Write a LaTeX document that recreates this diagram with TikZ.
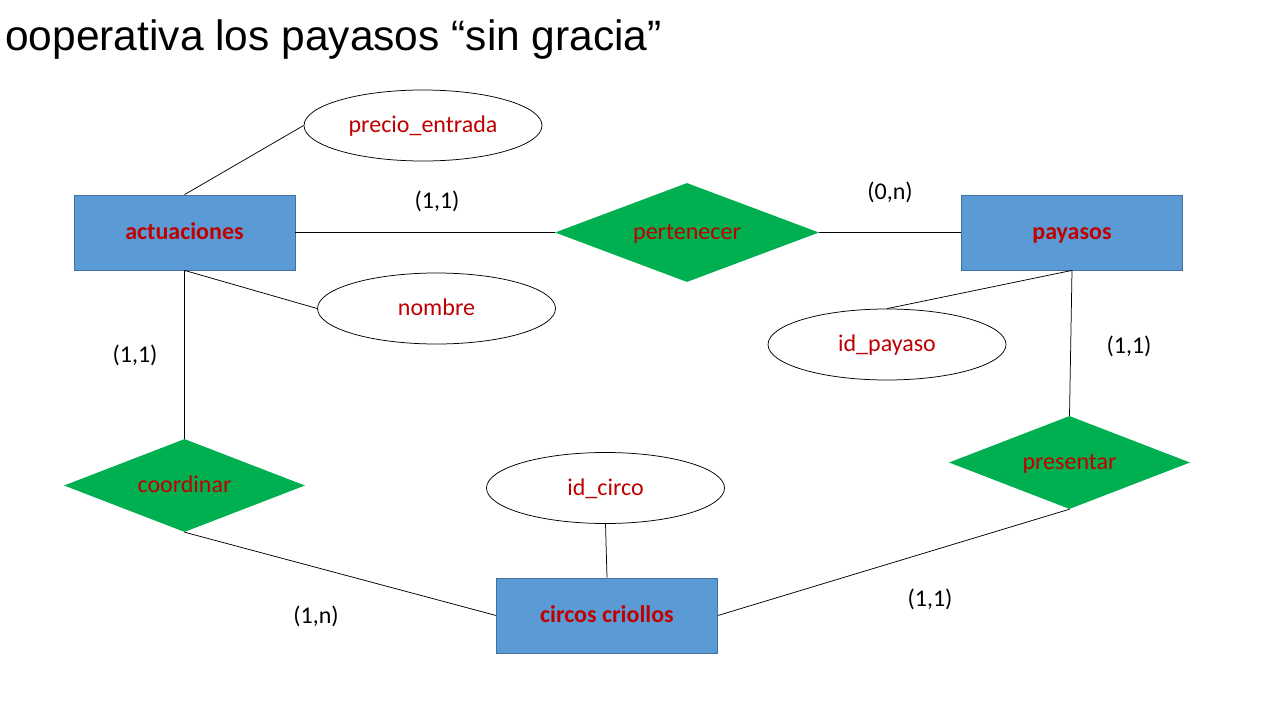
\documentclass[tikz,border=0pt]{standalone}
\usepackage{fontspec}
\setmainfont{Carlito}
\newfontfamily\titlefont{Liberation Sans}
\usetikzlibrary{shapes.geometric}
\definecolor{entblue}{HTML}{5B9BD5}
\definecolor{entborder}{HTML}{41719C}
\definecolor{relgreen}{HTML}{00B050}
\definecolor{txtred}{HTML}{C00000}
\tikzset{
  lbl/.style={font=\fontsize{24}{28}\selectfont, text height=18pt, text depth=4pt},
  entity/.style={lbl, rectangle, fill=entblue, draw=entborder, line width=0.8pt,
    minimum width=221pt, minimum height=75pt, inner sep=0pt,
    text=txtred, font=\fontsize{24}{28}\selectfont\bfseries},
  relation/.style={lbl, diamond, aspect=2.6, fill=relgreen, draw=none, inner sep=0pt,
    minimum width=241pt, minimum height=93pt, text=txtred},
  attrib/.style={lbl, ellipse, fill=white, draw=black, line width=0.75pt,
    minimum width=238pt, minimum height=71pt, inner sep=0pt, text=txtred},
  card/.style={lbl, text=black},
  conn/.style={draw=black, line width=0.75pt}
}
\begin{document}
\begin{tikzpicture}[x=1pt, y=-1pt]
\useasboundingbox (0,0) rectangle (1280,720);
\node[anchor=base west, inner sep=0pt, font=\titlefont\fontsize{42.5}{50}\selectfont] (title) at (5,50) {ooperativa los payasos “sin gracia”};

\node[entity] (act) at (184.5,232.5) {actuaciones};
\node[entity] (pay) at (1072,232.5) {payasos};
\node[entity] (circ) at (607,615.5) {circos criollos};

\node[relation, minimum width=264pt, minimum height=99pt] (pert) at (687,232.5) {pertenecer};
\node[relation] (coord) at (184.5,485.5) {coordinar};
\node[relation] (pres) at (1069.5,462.5) {presentar};

\node[attrib] (precio) at (423,125.5) {precio\_entrada};
\node[attrib] (nombre) at (436.5,308.5) {nombre};
\node[attrib] (idp) at (887,344.5) {id\_payaso};
\node[attrib] (idc) at (605.5,488) {id\_circo};

\draw[conn] (act.north) -- (precio.west);
\draw[conn] (act.south) -- (nombre.west);
\draw[conn] (act.east) -- (pert.west);
\draw[conn] (pert.east) -- (pay.west);
\draw[conn] (act.south) -- (coord.north);
\draw[conn] (coord.south) -- (circ.west);
\draw[conn] (circ.east) -- (pres.south);
\draw[conn] (pay.south) -- (pres.north);
\draw[conn] (pay.south) -- (idp.north);
\draw[conn] (idc.south) -- (circ.north);

\node[card] (c1) at (437,201) {(1,1)};
\node[card] (c2) at (890,192) {(0,n)};
\node[card] (c3) at (135,355) {(1,1)};
\node[card] (c4) at (1129,346) {(1,1)};
\node[card] (c5) at (316,616) {(1,n)};
\node[card] (c6) at (930,599) {(1,1)};
\end{tikzpicture}
\end{document}
